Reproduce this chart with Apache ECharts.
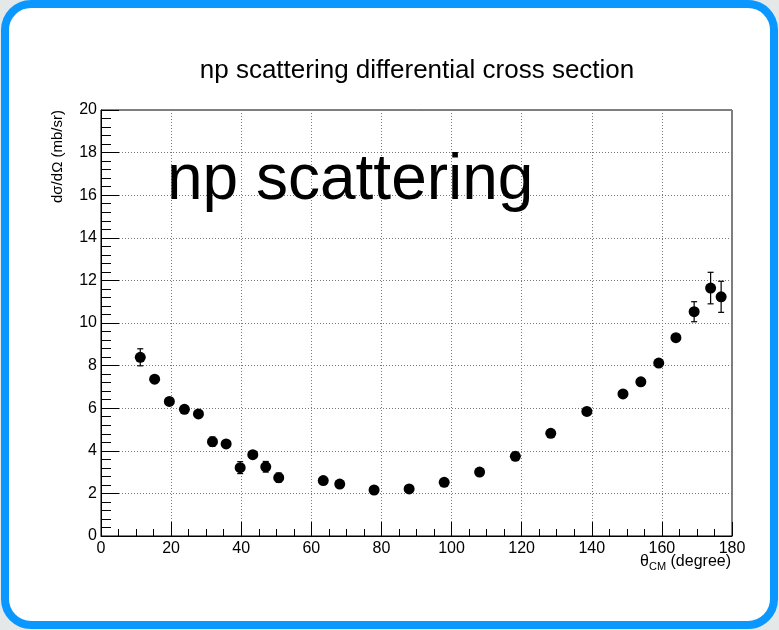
<!DOCTYPE html>
<html>
<head>
<meta charset="utf-8">
<script src="https://cdn.jsdelivr.net/npm/echarts@6/dist/echarts.min.js"></script>
<style>
  html, body { margin: 0; padding: 0; width: 779px; height: 630px; overflow: hidden; background: #e4e8e8; }
  #frame { position: absolute; left: 1px; top: 0; width: 761px; height: 613px; border: 8px solid #0a97ff; border-radius: 30px; background: #fff; }
  #chart { position: absolute; left: 0; top: 0; width: 779px; height: 630px; }
</style>
</head>
<body>
<div id="frame"></div>
<div id="chart"></div>
<script>
// scattering angle in CM frame (degree)
const theta = [11.2, 15.3, 19.5, 23.8, 27.8, 31.8, 35.7, 39.7, 43.3, 47.0, 50.7,
  63.4, 68.1, 77.9, 87.9, 97.9, 108.0, 118.2, 128.3, 138.6,
  148.9, 154.0, 159.1, 164.0, 169.2, 173.9, 176.9]
// d sigma / d Omega (mb/sr)
const dsigma = [8.39, 7.36, 6.32, 5.95, 5.73, 4.43, 4.32, 3.21, 3.82, 3.25, 2.74,
  2.60, 2.44, 2.16, 2.21, 2.52, 3.00, 3.74, 4.82, 5.85,
  6.67, 7.24, 8.12, 9.31, 10.53, 11.64, 11.23]
const dsigmaErr = [0.40, 0.16, 0.12, 0.10, 0.10, 0.22, 0.12, 0.28, 0.12, 0.25, 0.22,
  0.10, 0.10, 0.10, 0.10, 0.10, 0.10, 0.10, 0.10, 0.10,
  0.15, 0.10, 0.10, 0.10, 0.47, 0.74, 0.73]

const chart = echarts.init(document.getElementById('chart'))

function renderErrorBar(params, api) {
  const x = api.value(0)
  const lo = api.coord([x, api.value(1)])
  const hi = api.coord([x, api.value(2)])
  const cap = 3
  const style = { stroke: '#000', lineWidth: 1.2 }
  return {
    type: 'group',
    children: [
      { type: 'line', shape: { x1: lo[0], y1: lo[1], x2: hi[0], y2: hi[1] }, style: style },
      { type: 'line', shape: { x1: lo[0] - cap, y1: lo[1], x2: lo[0] + cap, y2: lo[1] }, style: style },
      { type: 'line', shape: { x1: hi[0] - cap, y1: hi[1], x2: hi[0] + cap, y2: hi[1] }, style: style }
    ]
  }
}

const font = 'Liberation Sans'
const gridLine = { lineStyle: { color: '#7a7a7a', width: 1, type: [1, 2] } }

const option = {
  animation: false,
  textStyle: { fontFamily: font },
  grid: { left: 101, right: 47, top: 110, bottom: 94, show: true, borderColor: '#000', borderWidth: 1 },
  xAxis: {
    type: 'value', min: 0, max: 180, interval: 20,
    axisLine: { lineStyle: { color: '#000', width: 1 } },
    axisTick: { inside: true, length: 14, lineStyle: { color: '#000' } },
    minorTick: { show: true, splitNumber: 4, length: 7, lineStyle: { color: '#000' } },
    splitLine: gridLine,
    axisLabel: { color: '#000', fontSize: 16, margin: 5 }
  },
  yAxis: {
    type: 'value', min: 0, max: 20, interval: 2,
    axisLine: { lineStyle: { color: '#000', width: 1 } },
    axisTick: { inside: true, length: 18, lineStyle: { color: '#000' } },
    minorTick: { show: true, splitNumber: 5, length: 10, lineStyle: { color: '#000' } },
    splitLine: gridLine,
    axisLabel: { color: '#000', fontSize: 16, margin: 4 }
  },
  series: [
    {
      type: 'custom',
      renderItem: renderErrorBar,
      encode: { x: 0, y: [1, 2] },
      data: theta.map((t, i) => [t, dsigma[i] - dsigmaErr[i], dsigma[i] + dsigmaErr[i]]),
      z: 2
    },
    {
      type: 'scatter',
      symbol: 'circle',
      symbolSize: 11,
      itemStyle: { color: '#000', opacity: 1 },
      data: theta.map((t, i) => [t, dsigma[i]]),
      z: 3
    }
  ],
  graphic: [
    {
      type: 'text', x: 417, y: 71,
      style: { text: 'np scattering differential cross section', font: '26px "Liberation Sans"', fill: '#000', textAlign: 'center', textVerticalAlign: 'middle' }
    },
    {
      type: 'text', x: 167, y: 181, z: 10,
      style: { text: 'np scattering', font: '64px "Liberation Sans"', fill: '#000', textAlign: 'left', textVerticalAlign: 'middle' }
    },
    {
      type: 'text', x: 58, y: 110, rotation: Math.PI / 2,
      style: { text: 'dσ/dΩ (mb/sr)', font: '15px "Liberation Sans"', fill: '#000', textAlign: 'right', textVerticalAlign: 'middle' }
    },
    {
      type: 'text', x: 731, y: 562,
      style: {
        text: '{t|θ}{s|CM}{t| (degree)}',
        textAlign: 'right', textVerticalAlign: 'middle',
        rich: {
          t: { fontSize: 16, fontFamily: font, fill: '#000', lineHeight: 20 },
          s: { fontSize: 11, fontFamily: font, fill: '#000', lineHeight: 20, padding: [9, 0, 0, 0] }
        }
      }
    }
  ]
}

chart.setOption(option)
</script>
</body>
</html>
